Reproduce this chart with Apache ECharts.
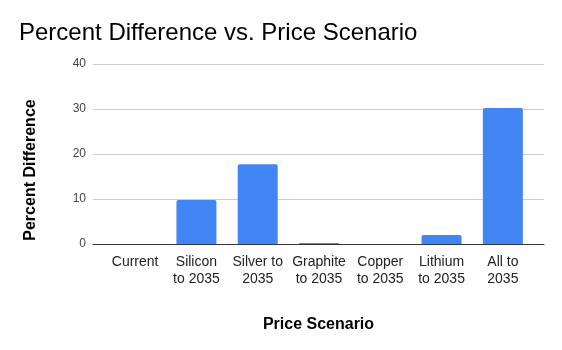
<!DOCTYPE html>
<html>
<head>
<meta charset="utf-8">
<script src="https://cdn.jsdelivr.net/npm/echarts@6/dist/echarts.min.js"></script>
<style>html,body{margin:0;padding:0;background:#fff}#c{width:562px;height:350px}</style>
</head>
<body>
<div id="c"></div>
<script>
var categories = ["Current", "Silicon\nto 2035", "Silver to\n2035", "Graphite\nto 2035", "Copper\nto 2035", "Lithium\nto 2035", "All to\n2035"];
var percentDiff = [0, 9.8, 17.7, 0.2, 0, 2.0, 30.2];
var yTicks = [0, 10, 20, 30, 40];

var FONT = '"Liberation Sans", Arial, sans-serif';
var chart = echarts.init(document.getElementById('c'), null, {renderer: 'canvas'});
chart.setOption({
  animation: false,
  backgroundColor: '#fff',
  title: {
    text: 'Percent Difference vs. Price Scenario',
    left: 19, top: 21, padding: 0,
    textStyle: {fontFamily: FONT, fontSize: 24, fontWeight: 'normal', color: '#000'}
  },
  grid: [
    {left: 93, right: 18, top: 64, bottom: 106},
    {left: 104.5, right: 28.5, top: 64, bottom: 106}
  ],
  xAxis: [
    {
      gridIndex: 0, type: 'category', data: [''],
      axisLine: {show: true, lineStyle: {color: '#333', width: 1}},
      axisTick: {show: false}, axisLabel: {show: false},
      name: 'Price Scenario', nameLocation: 'middle', nameGap: 73,
      nameTextStyle: {fontFamily: FONT, fontSize: 16, fontWeight: 'bold', color: '#000'}
    },
    {
      gridIndex: 1, type: 'category', data: categories,
      axisLine: {show: false}, axisTick: {show: false},
      axisLabel: {fontFamily: FONT, fontSize: 14, color: '#222', margin: 9.5, lineHeight: 17, interval: 0}
    }
  ],
  yAxis: [
    {
      gridIndex: 0, type: 'value', min: yTicks[0], max: yTicks[yTicks.length - 1], interval: 10,
      axisLine: {show: false}, axisTick: {show: false},
      axisLabel: {fontFamily: FONT, fontSize: 12, color: '#444', margin: 7},
      splitLine: {lineStyle: {color: '#ccc', width: 1}},
      name: 'Percent Difference', nameLocation: 'middle', nameRotate: 90, nameGap: 54,
      nameTextStyle: {fontFamily: FONT, fontSize: 16, fontWeight: 'bold', color: '#000', padding: [0, 32, 0, 0]}
    },
    {
      gridIndex: 1, type: 'value', min: yTicks[0], max: yTicks[yTicks.length - 1], interval: 10,
      axisLine: {show: false}, axisTick: {show: false}, axisLabel: {show: false}, splitLine: {show: false}
    }
  ],
  series: [{
    type: 'bar', xAxisIndex: 1, yAxisIndex: 1,
    data: percentDiff, barWidth: 40,
    itemStyle: {color: '#4285F4', borderRadius: [2, 2, 0, 0]}
  }]
});
</script>
</body>
</html>
